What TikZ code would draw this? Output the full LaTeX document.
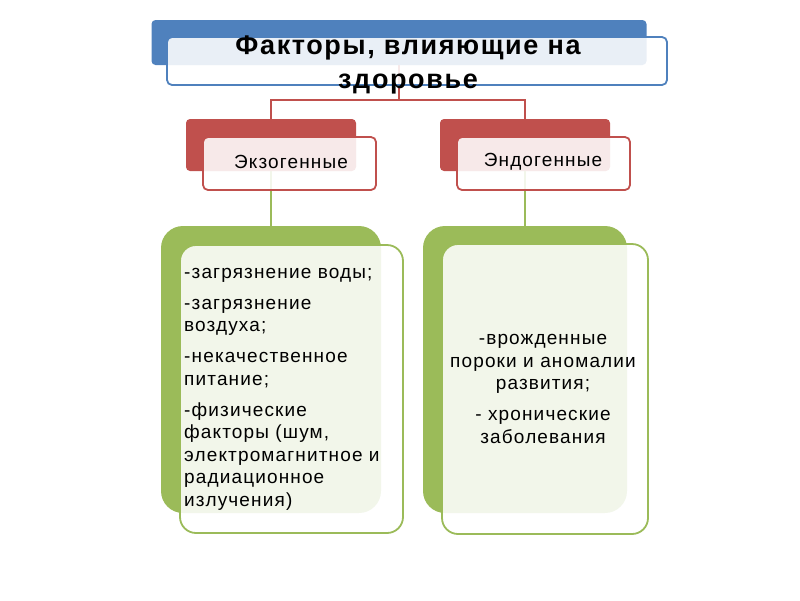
\documentclass[tikz,border=0pt]{standalone}
\usepackage{fontspec}
\setmainfont{Liberation Sans}
\newfontfamily\fonteTitulo[LetterSpace=6]{Liberation Sans}
\newfontfamily\fonteCaixa[LetterSpace=6]{Liberation Sans}
\usetikzlibrary{positioning, backgrounds}

\begin{document}
\begin{tikzpicture}[x=1pt, y=-1pt,
  fundo/.style={draw=none, fill=#1, rounded corners=4pt, inner sep=0pt},
  frente/.style={draw=#1, line width=1.8pt, fill=white, fill opacity=0.88, rounded corners=5pt, inner sep=0pt},
  liga/.style={draw=#1, line width=1.5pt},
  texto/.style={text=black, inner sep=0pt, font=\fonteCaixa\fontsize{19}{22.5}\selectfont}]
% --- ORGANOGRAMA EM CAMADAS: FUNDO COLORIDO + CAIXA CLARA POR CIMA ---
\definecolor{azul}{HTML}{4F81BD}
\definecolor{vermelho}{HTML}{C0504D}
\definecolor{verde}{HTML}{9BBB59}
\useasboundingbox (0,0) rectangle (800,600);

% LAYER 1: Titulo
\node[fundo=azul, minimum width=495, minimum height=45] (titFundo) at (399,42.5) {};
\node[frente=azul, minimum width=500, minimum height=48] (titFrente) at (417,61) {};
\node[align=center, inner sep=0pt, font=\fonteTitulo\bfseries\fontsize{27}{34}\selectfont] (titTexto) at (408,65) {Факторы, влияющие на\\здоровье};

% LAYER 2: Grupos
\node[fundo=vermelho, minimum width=170, minimum height=52] (exoFundo) at (271,145) {};
\node[frente=vermelho, minimum width=173, minimum height=53] (exoFrente) at (289.5,163.5) {};
\node[texto] (exoTexto) at (291,162) {Экзогенные};
\node[fundo=vermelho, minimum width=170, minimum height=52] (endoFundo) at (525,145) {};
\node[frente=vermelho, minimum width=173, minimum height=53] (endoFrente) at (543.5,163.5) {};
\node[texto] (endoTexto) at (543,162) {Эндогенные};

% LAYER 3: Listas de fatores
\node[fundo=verde, rounded corners=22pt, minimum width=220, minimum height=287] (exoListaFundo) at (271,369.5) {};
\node[frente=verde, rounded corners=16pt, minimum width=223, minimum height=288] (exoListaFrente) at (291.5,389) {};
\node[texto, align=left, anchor=west] (exoLista) at (184,389) {-загрязнение воды;\\[8.5pt]-загрязнение\\воздуха;\\[8.5pt]-некачественное\\питание;\\[8.5pt]-физические\\факторы (шум,\\электромагнитное и\\радиационное\\излучения)};
\node[fundo=verde, rounded corners=22pt, minimum width=204, minimum height=287] (endoListaFundo) at (525,369.5) {};
\node[frente=verde, rounded corners=16pt, minimum width=206, minimum height=290] (endoListaFrente) at (545,389) {};
\node[texto, align=center] (endoLista) at (543,389) {-врожденные\\пороки и аномалии\\развития;\\[8.5pt]- хронические\\заболевания};

% LAYER 0: Ligacoes (por baixo das caixas)
\begin{scope}[on background layer]
\draw[liga=vermelho] (titFundo.south) -- ++(0,35) -| (exoFundo.north);
\draw[liga=vermelho] (titFundo.south) -- ++(0,35) -| (endoFundo.north);
\draw[liga=verde] (exoFundo.south) -- (exoListaFundo.north);
\draw[liga=verde] (endoFundo.south) -- (endoListaFundo.north);
\end{scope}
\end{tikzpicture}
\end{document}
